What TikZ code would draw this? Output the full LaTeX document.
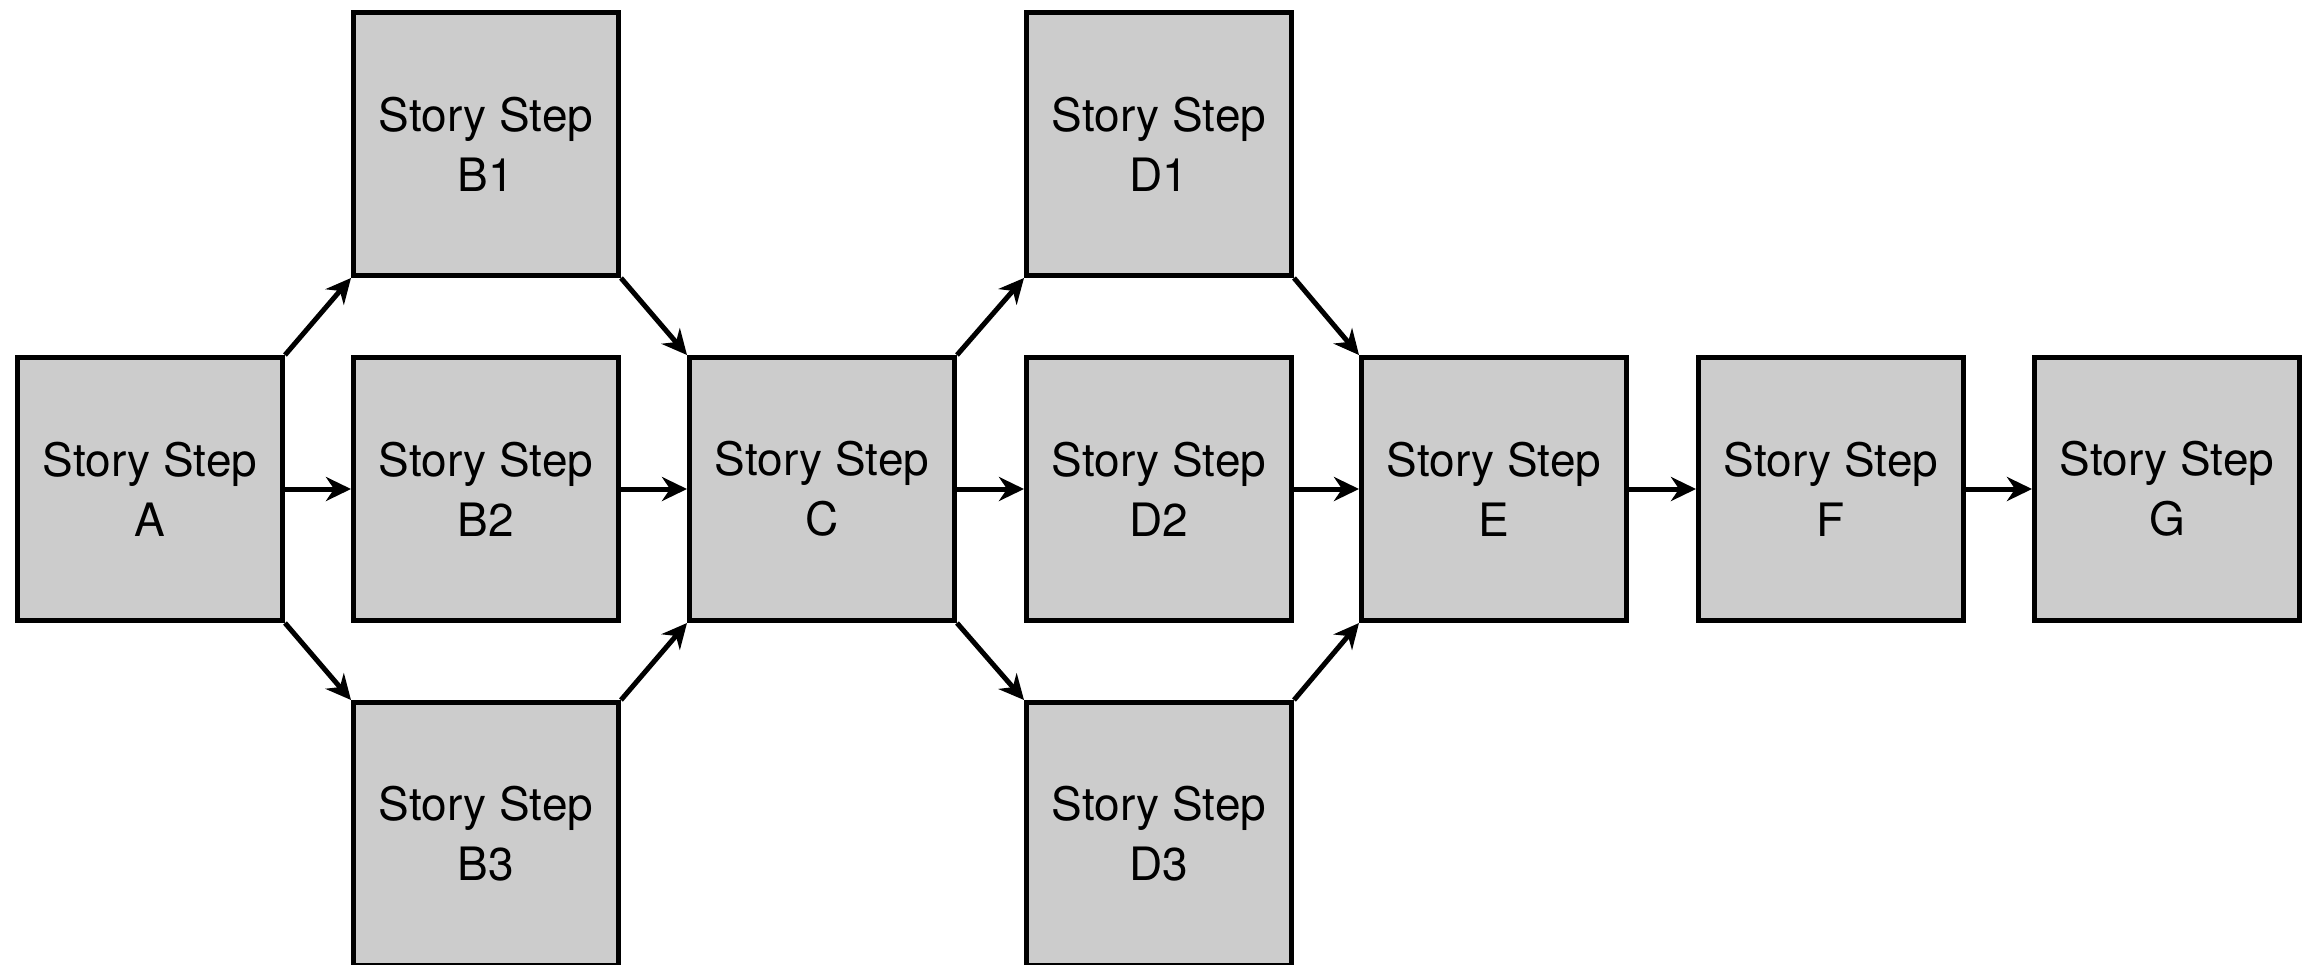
\documentclass[tikz,border=0pt]{standalone}
\usepackage{fontspec}
\setmainfont{TeX Gyre Heros}
\usetikzlibrary{arrows.meta}
\definecolor{boxgray}{RGB}{204,204,204}
\tikzset{
  stepbox/.style={draw=black, fill=boxgray, line width=5pt, minimum width=265pt,
    minimum height=263pt, inner sep=0pt, align=center,
    font=\fontsize{46}{60}\selectfont},
  flow/.style={line width=5pt, -{Stealth[length=25pt, width=24pt, inset=8pt]}}
}
\begin{document}
\begin{tikzpicture}[x=1pt, y=-1pt]
\useasboundingbox (0,0) rectangle (2306,964);
% middle row
\node[stepbox] (A)  at (150,489)  {Story Step\\A};
\node[stepbox] (B2) at (486,489)  {Story Step\\B2};
\node[stepbox] (C)  at (822,489)  {Story Step\\C};
\node[stepbox] (D2) at (1159,489) {Story Step\\D2};
\node[stepbox] (E)  at (1494,489) {Story Step\\E};
\node[stepbox] (F)  at (1831,489) {Story Step\\F};
\node[stepbox] (G)  at (2167,489) {Story Step\\G};
% upper branches
\node[stepbox] (B1) at (486,144)  {Story Step\\B1};
\node[stepbox] (D1) at (1159,144) {Story Step\\D1};
% lower branches
\node[stepbox] (B3) at (486,834)  {Story Step\\B3};
\node[stepbox] (D3) at (1159,834) {Story Step\\D3};
% straight flow
\draw[flow] (A.east) -- (B2.west);
\draw[flow] (B2.east) -- (C.west);
\draw[flow] (C.east) -- (D2.west);
\draw[flow] (D2.east) -- (E.west);
\draw[flow] (E.east) -- (F.west);
\draw[flow] (F.east) -- (G.west);
% branching flow
\draw[flow] (A.north east) -- (B1.south west);
\draw[flow] (A.south east) -- (B3.north west);
\draw[flow] (B1.south east) -- (C.north west);
\draw[flow] (B3.north east) -- (C.south west);
\draw[flow] (C.north east) -- (D1.south west);
\draw[flow] (C.south east) -- (D3.north west);
\draw[flow] (D1.south east) -- (E.north west);
\draw[flow] (D3.north east) -- (E.south west);
\end{tikzpicture}
\end{document}
